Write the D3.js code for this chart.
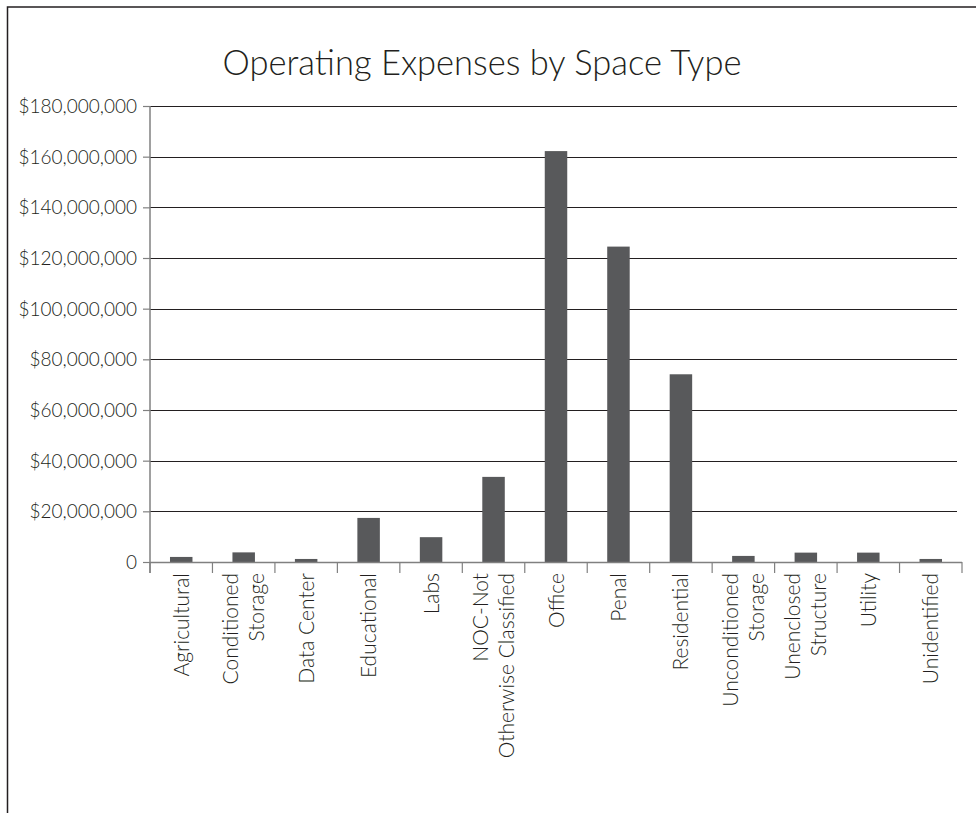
<!DOCTYPE html>
<html>
<head>
<meta charset="utf-8">
<script src="https://cdn.jsdelivr.net/npm/d3@7"></script>
<style>
  html, body { margin: 0; padding: 0; background: #fff; }
  svg { display: block; }
  text { font-family: Lato, "Open Sans", sans-serif; font-weight: 300; fill: #231f20; }
</style>
</head>
<body>
<script>
const categories = [
  ["Agricultural"],
  ["Conditioned", "Storage"],
  ["Data Center"],
  ["Educational"],
  ["Labs"],
  ["NOC-Not", "Otherwise Classified"],
  ["Office"],
  ["Penal"],
  ["Residential"],
  ["Unconditioned", "Storage"],
  ["Unenclosed", "Structure"],
  ["Utility"],
  ["Unidentified"]
];
const values = [2000000, 3800000, 1200000, 17400000, 9800000, 33600000, 162200000, 124500000, 74100000, 2400000, 3700000, 3700000, 1200000];
const yTicks = [0, 20000000, 40000000, 60000000, 80000000, 100000000, 120000000, 140000000, 160000000, 180000000];
const title = "Operating Expenses by Space Type";

(function () {
const W = 976, H = 813;
const svg = d3.select("body").append("svg").attr("width", W).attr("height", H);

// frame
svg.append("path").attr("d", `M7.5,${H + 2} L7.5,7 L${W + 2},7`)
  .attr("fill", "none").attr("stroke", "#231f20").attr("stroke-width", 1.5);

const mL = 150, mR = 962, mT = 106, mB = 562;
const keys = categories.map(c => c.join(" "));
const x = d3.scaleBand().domain(keys).range([mL, mR]).paddingInner(0.64).paddingOuter(0.32);
const xStep = d3.scaleBand().domain(keys).range([mL, mR]);
const y = d3.scaleLinear().domain([0, 180000000]).range([mB, mT]);

svg.append("text").attr("x", 482).attr("y", 75).attr("text-anchor", "middle")
  .style("font-size", "34.5px").text(title);

// gridlines
svg.append("g").selectAll("line").data(yTicks.filter(t => t > 0)).join("line")
  .attr("x1", mL).attr("x2", 957)
  .attr("y1", d => Math.round(y(d)) + 0.5).attr("y2", d => Math.round(y(d)) + 0.5)
  .attr("stroke", "#231f20").attr("stroke-width", 1.2);

// bars
svg.append("g").selectAll("rect").data(values).join("rect")
  .attr("x", (d, i) => x(keys[i]))
  .attr("width", x.bandwidth())
  .attr("y", d => y(d))
  .attr("height", d => mB - y(d))
  .attr("fill", "#58595b");

// y axis
const fmt = d => d === 0 ? "0" : "$" + d3.format(",")(d);
const yAxis = d3.axisLeft(y).tickValues(yTicks).tickFormat(fmt).tickSize(7).tickPadding(6);
const gy = svg.append("g").attr("transform", `translate(${mL},0)`).call(yAxis);
gy.select(".domain").attr("stroke", "#808080").attr("stroke-width", 1.5).attr("d", `M0,${mT}V${mB + 11}`);
gy.selectAll(".tick line").attr("stroke", "#808080").attr("stroke-width", 1.2);
gy.selectAll(".tick text").style("font-size", "19px").style("font-family", "Lato, sans-serif").attr("fill", "#231f20").attr("dy", "0.35em");

// x axis baseline and ticks
const gx = svg.append("g");
gx.append("line").attr("x1", mL).attr("x2", mR).attr("y1", mB + 0.5).attr("y2", mB + 0.5)
  .attr("stroke", "#808080").attr("stroke-width", 1.5);
gx.selectAll("line.tk").data(keys.concat(["__end"])).join("line").attr("class", "tk")
  .attr("x1", (d, i) => i < keys.length ? xStep(d) : mR)
  .attr("x2", (d, i) => i < keys.length ? xStep(d) : mR)
  .attr("y1", mB).attr("y2", mB + 11)
  .attr("stroke", "#808080").attr("stroke-width", 1.2);

// x labels
const lh = 26;
const lab = svg.append("g").selectAll("text").data(categories).join("text")
  .attr("transform", (d, i) => `translate(${xStep(keys[i]) + xStep.bandwidth() / 2 + 7.5},${mB + 11}) rotate(-90)`)
  .attr("text-anchor", "end")
  .style("font-size", "21px");
lab.each(function(d) {
  const t = d3.select(this);
  const n = d.length;
  d.forEach((line, j) => {
    t.append("tspan").attr("x", 0).attr("y", (j - (n - 1) / 2) * lh).text(line);
  });
});
})();
</script>
</body>
</html>
